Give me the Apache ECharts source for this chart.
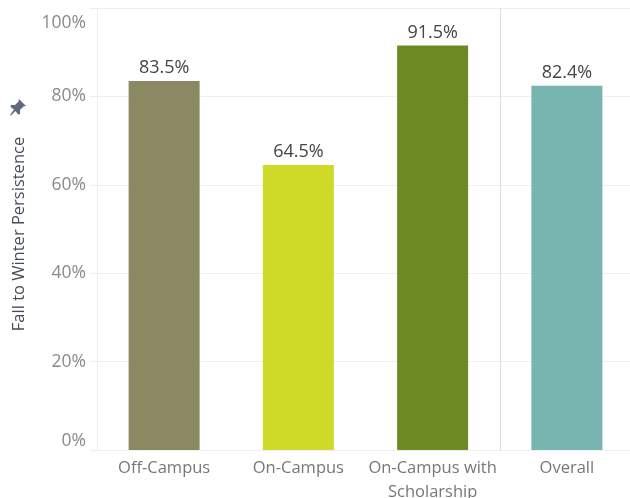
<!DOCTYPE html>
<html>
<head>
<meta charset="utf-8">
<style>html,body{margin:0;padding:0;background:#fff}#c{width:630px;height:498px}</style>
<script src="https://cdn.jsdelivr.net/npm/echarts@6/dist/echarts.min.js"></script>
</head>
<body>
<div id="c"></div>
<script>
const categories = ['Off-Campus', 'On-Campus', 'On-Campus with\nScholarship', 'Overall'];
const persistence = [83.5, 64.5, 91.5, 82.4];
const barColors = ['#8a8962', '#cfd928', '#6e8b23', '#78b5b0'];
const yTicks = [0, 20, 40, 60, 80, 100];
const axisTitle = 'Fall to Winter Persistence';
const FONT = '"Open Sans", sans-serif';

const chart = echarts.init(document.getElementById('c'), null, {renderer: 'canvas'});
chart.setOption({
  animation: false,
  backgroundColor: '#ffffff',
  grid: {left: 97, right: -4, top: 8, bottom: 48, outerBoundsMode: 'none'},
  xAxis: {
    type: 'category',
    data: categories,
    axisLine: {show: true, lineStyle: {color: '#eeeeee', width: 1}},
    axisTick: {show: false},
    axisLabel: {color: '#777777', fontFamily: FONT, fontSize: 16.5, margin: 6, lineHeight: 24, interval: 0},
    splitLine: {
      show: true,
      showMinLine: false,
      showMaxLine: false,
      interval: function (i) { return i === 0 || i === 3; },
      lineStyle: {color: '#dcdcdc', width: 1}
    }
  },
  yAxis: {
    type: 'value',
    min: 0,
    max: 100,
    interval: 20,
    name: axisTitle,
    nameLocation: 'middle',
    nameGap: 69,
    nameRotate: 90,
    nameTextStyle: {color: '#444c55', fontFamily: FONT, fontSize: 16.5, padding: [0, 10, 0, 0]},
    axisLine: {show: true, lineStyle: {color: '#eeeeee', width: 1}},
    axisTick: {show: true, length: 7, lineStyle: {color: '#eeeeee', width: 1}},
    axisLabel: {
      color: '#8a8a8a', fontFamily: FONT, fontSize: 17.5, margin: 11,
      verticalAlignMinLabel: 'bottom',
      verticalAlignMaxLabel: 'top',
      formatter: function (v) {
        if (!yTicks.includes(v)) return '';
        return v === 100 ? '{hi|' + v + '%}' : v + '%';
      },
      rich: {hi: {color: '#8a8a8a', fontFamily: FONT, fontSize: 17.5, padding: [6, 0, 0, 0]}}
    },
    splitLine: {show: true, lineStyle: {color: '#efefef', width: 1}}
  },
  series: [{
    type: 'bar',
    barWidth: 71,
    data: persistence.map(function (v, i) {
      return {value: v, itemStyle: {color: barColors[i]}};
    }),
    label: {
      show: true,
      position: 'top',
      distance: 4,
      color: '#444444',
      fontFamily: FONT,
      fontSize: 18,
      formatter: function (p) { return p.value.toFixed(1) + '%'; }
    }
  }],
  graphic: [{
    type: 'polygon',
    x: 10, y: 99,
    shape: {
      points: [[9,0],[16,7],[13.5,7.5],[10,11],[10,15],[8,15.5],[5.5,12],[1,16.5],[0,16],[4,10.5],[0.5,8],[1,6],[5,6],[8.5,2.5]]
    },
    style: {fill: '#5f6b7a'}
  }]
});
</script>
</body>
</html>
